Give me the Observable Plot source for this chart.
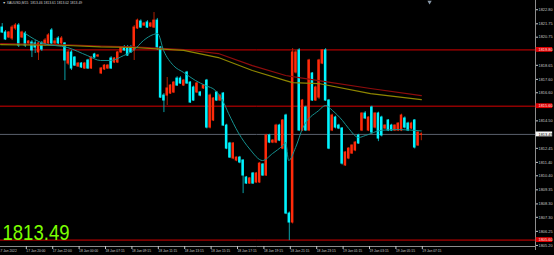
<!DOCTYPE html>
<html><head><meta charset="utf-8">
<script src="https://cdn.jsdelivr.net/npm/d3@7"></script>
<script src="https://cdn.jsdelivr.net/npm/@observablehq/plot@0.6"></script>
<style>
html,body{margin:0;padding:0;background:#000;overflow:hidden}
#chart svg{display:block}
</style></head><body><div id="chart"></div>
<script>
const titleText = "▼ XAUUSD,M15  1813.46 1813.61 1813.02 1813.49";
const bidPrice = 1813.49;
const redLevels = [1819.80, 1815.60, 1805.60];
const yTicks = [1822.80,1821.75,1820.75,1818.65,1817.60,1816.60,1814.50,1812.45,1811.40,1810.40,1809.35,1808.30,1807.30,1806.25,1805.20];
const timeTickBars = [-1.4,7,15,23,31,39,47,55,63,71,79,87,95,103,111,119,127];
const timeTickLabels = ["17 Jan 2022","17 Jan 20:00","17 Jan 22:00","18 Jan 00:00","18 Jan 07:15","18 Jan 09:15","18 Jan 11:15","18 Jan 13:15","18 Jan 15:15","18 Jan 17:15","18 Jan 19:15","18 Jan 21:15","18 Jan 23:15","19 Jan 01:15","19 Jan 03:15","19 Jan 05:15","19 Jan 07:15"];

const opens = [1821.47,1821.10,1820.73,1820.65,1821.40,1821.62,1820.73,1821.02,1820.28,1820.35,1820.28,1819.61,1820.28,1820.20,1820.28,1821.25,1820.28,1820.65,1820.28,1820.28,1818.78,1819.61,1819.23,1818.56,1818.78,1818.41,1819.01,1818.41,1819.46,1819.31,1818.04,1818.34,1818.41,1819.16,1818.86,1818.86,1819.61,1819.98,1819.98,1819.98,1819.76,1821.40,1821.92,1821.62,1821.85,1821.55,1821.47,1821.99,1819.98,1816.39,1816.39,1816.54,1816.62,1817.66,1817.66,1817.14,1818.11,1817.36,1816.99,1816.62,1816.62,1816.92,1817.51,1814.00,1814.53,1816.62,1816.02,1816.54,1814.15,1812.81,1811.69,1811.54,1811.76,1811.54,1810.27,1809.82,1810.57,1809.90,1809.90,1811.24,1810.42,1813.41,1812.88,1812.88,1814.15,1812.43,1814.90,1807.58,1806.91,1818.11,1819.76,1813.78,1815.50,1813.78,1818.04,1816.02,1816.24,1818.78,1819.76,1816.02,1813.78,1814.75,1814.15,1813.93,1811.17,1811.69,1812.06,1812.29,1813.41,1813.78,1815.05,1813.78,1815.50,1814.00,1815.05,1814.75,1813.93,1814.53,1814.15,1813.78,1813.78,1813.78,1814.68,1814.30,1813.93,1814.53,1812.66,1813.46];
const highs = [1821.77,1821.25,1821.17,1821.62,1821.77,1821.77,1821.20,1821.17,1820.50,1820.50,1820.50,1820.35,1820.43,1820.65,1821.02,1821.40,1820.65,1820.80,1820.80,1820.35,1819.76,1819.76,1819.30,1818.86,1818.86,1818.86,1819.10,1819.30,1819.55,1819.46,1818.49,1818.70,1818.70,1819.30,1819.23,1819.68,1820.05,1820.13,1820.13,1820.13,1821.62,1822.10,1822.05,1821.85,1821.99,1821.85,1822.59,1822.15,1820.05,1816.54,1817.74,1817.20,1817.44,1817.80,1817.80,1817.60,1818.20,1817.44,1817.10,1817.36,1816.70,1817.20,1817.60,1816.50,1816.24,1816.70,1816.45,1816.62,1814.25,1812.90,1812.88,1811.80,1811.85,1811.60,1810.35,1810.27,1810.65,1810.65,1811.40,1811.31,1813.50,1813.50,1813.10,1814.25,1814.25,1814.60,1815.00,1807.70,1819.90,1819.76,1819.90,1816.10,1815.60,1819.10,1818.10,1817.10,1819.10,1819.83,1819.90,1816.10,1815.00,1814.85,1814.25,1814.00,1812.20,1812.50,1812.70,1812.95,1813.50,1815.10,1815.20,1814.80,1815.60,1815.10,1815.15,1814.85,1814.20,1814.60,1814.25,1814.20,1814.35,1815.00,1814.80,1814.40,1814.40,1814.60,1813.70,1813.61];
const lows = [1821.02,1820.50,1820.65,1820.50,1821.25,1819.98,1820.65,1819.98,1820.20,1819.23,1819.53,1819.01,1819.68,1820.05,1820.13,1820.13,1820.13,1820.13,1820.13,1817.51,1818.63,1818.26,1818.56,1818.49,1818.41,1818.34,1818.34,1818.34,1819.16,1819.23,1817.96,1818.26,1818.34,1818.34,1818.78,1818.78,1819.53,1819.68,1819.31,1819.53,1819.01,1821.32,1821.40,1821.55,1821.40,1821.47,1821.40,1819.76,1816.17,1815.12,1815.65,1816.47,1816.54,1817.07,1817.22,1817.07,1817.22,1815.80,1815.95,1816.54,1816.30,1816.85,1813.90,1813.90,1814.45,1815.95,1815.95,1814.10,1812.35,1811.70,1811.60,1811.45,1811.30,1809.07,1809.75,1809.75,1809.75,1809.82,1809.82,1810.35,1810.35,1812.80,1812.80,1812.80,1812.95,1812.35,1807.50,1805.56,1806.80,1818.00,1813.70,1813.70,1813.70,1813.70,1815.95,1815.95,1816.10,1818.70,1815.95,1812.35,1813.70,1813.90,1813.85,1811.20,1811.10,1811.60,1812.00,1812.20,1812.75,1813.70,1814.60,1813.70,1813.50,1813.90,1812.95,1813.30,1813.85,1813.70,1813.70,1813.70,1813.70,1813.70,1813.90,1813.70,1813.85,1812.40,1812.60,1813.02];
const closes = [1821.10,1820.58,1821.10,1821.47,1821.62,1820.13,1821.10,1820.13,1820.43,1819.76,1819.98,1820.28,1819.83,1820.50,1820.88,1820.28,1820.43,1820.28,1820.65,1819.01,1819.61,1818.41,1818.63,1818.78,1818.49,1818.78,1818.41,1819.23,1819.23,1819.38,1818.41,1818.63,1818.63,1818.41,1819.16,1819.61,1819.98,1819.76,1819.38,1819.61,1821.47,1821.99,1821.47,1821.77,1821.47,1821.77,1821.99,1819.98,1816.24,1816.02,1816.92,1817.14,1817.36,1817.14,1817.29,1817.51,1817.29,1815.87,1816.02,1817.29,1816.39,1817.14,1814.00,1816.39,1816.17,1816.02,1816.39,1814.15,1812.43,1811.76,1812.81,1811.76,1811.39,1810.42,1809.82,1810.20,1809.82,1810.57,1811.31,1810.42,1813.41,1812.88,1813.03,1814.15,1813.03,1814.53,1807.58,1806.91,1819.61,1819.61,1813.78,1816.02,1813.78,1819.01,1816.02,1816.99,1819.01,1819.76,1816.02,1812.43,1814.90,1814.00,1813.93,1811.31,1812.14,1812.43,1812.66,1812.88,1812.81,1815.05,1814.68,1814.75,1813.63,1815.05,1813.18,1813.41,1814.15,1813.78,1813.78,1814.15,1814.30,1814.90,1814.00,1813.78,1814.30,1812.51,1813.63,1813.49];

const fastMaBars = [7,12.5,19.8,25.8,29.8,32.8,36.8,39.8,42.8,45.8,47.1,48.9,51.9,55,58.6,61.6,64.6,66.8,68.6,71.6,75,78.9,81.9,85,85.9,86.8,88.9,91,95.9,98,100.1,103.1,105,108,110.1,115,120,127];
const fastMaVals = [1821.02,1820.28,1819.98,1819.38,1819.01,1819.01,1819.38,1819.76,1820.50,1820.95,1821.02,1819.76,1818.63,1818.11,1817.51,1817.14,1816.77,1816.02,1815.05,1813.60,1812.40,1811.54,1812.06,1812.66,1812.88,1811.54,1812.51,1813.93,1815.27,1815.65,1815.27,1814.53,1813.93,1813.26,1813.41,1813.80,1813.85,1813.75];
const slowMaBars = [-0.5,19.8,29.8,39.8,55,65.5,75.8,85.9,88,95.9,111.6,127];
const slowRedVals = [1820.28,1820.18,1820.09,1820.02,1819.83,1819.53,1818.63,1817.89,1817.80,1817.51,1816.92,1816.39];
const slowOliveVals = [1820.20,1820.13,1820.02,1819.98,1819.76,1819.23,1818.26,1817.51,1817.36,1817.29,1816.54,1816.09];

const bars = opens.map((o, i) => ({i, o, h: highs[i], l: lows[i], c: closes[i]}));
const ups = bars.filter(d => d.c >= d.o);
const downs = bars.filter(d => d.c < d.o);
const fastMa = fastMaBars.map((b, k) => ({b, v: fastMaVals[k]}));
const slowMa = slowMaBars.map((b, k) => ({b, r: slowRedVals[k], o: slowOliveVals[k]}));
const timeLabel = new Map(timeTickBars.map((b, k) => [b, timeTickLabels[k]]));

const xDomain = [-0.52, 161.6];
const yDomain = [1805.12, 1823.49];
const bullColor = "#ff2a0a", bearColor = "#00f4ff";
const fmt = d3.format(".2f");
const boxW = 5.2, boxH = 0.18;
const smallFont = "Liberation Sans, Arial, sans-serif";

const chart = Plot.plot({
  width: 554, height: 255,
  marginLeft: 0, marginRight: 19, marginTop: 0, marginBottom: 9,
  style: {background: "#000", color: "#cfcfcf", fontFamily: smallFont, overflow: "hidden"},
  x: {type: "linear", domain: xDomain, label: null},
  y: {domain: yDomain, label: null},
  marks: [
    Plot.ruleY(redLevels, {stroke: "#d80000", strokeWidth: 1}),
    Plot.ruleY([bidPrice], {stroke: "#59606c", strokeWidth: 1}),
    Plot.ruleX(ups, {x: "i", y1: "l", y2: "h", stroke: "#b02000", strokeWidth: 1}),
    Plot.ruleX(downs, {x: "i", y1: "l", y2: "h", stroke: "#0aa0a8", strokeWidth: 1}),
    Plot.rect(ups, {x1: d => d.i - 0.38, x2: d => d.i + 0.38, y1: d => d.o, y2: d => d.c, fill: bullColor, insetTop: -0.5, insetBottom: -0.5}),
    Plot.rect(downs, {x1: d => d.i - 0.38, x2: d => d.i + 0.38, y1: d => d.c, y2: d => d.o, fill: bearColor, insetTop: -0.5, insetBottom: -0.5}),
    Plot.line(slowMa, {x: "b", y: "r", stroke: "#8e0c0c", strokeWidth: 1.2}),
    Plot.line(slowMa, {x: "b", y: "o", stroke: "#8f8600", strokeWidth: 1.2}),
    Plot.line(fastMa, {x: "b", y: "v", stroke: "#15908f", strokeWidth: 1, curve: "monotone-x"}),
    Plot.ruleX([xDomain[1]], {stroke: "#8c8c8c", strokeWidth: 1, insetBottom: -4}),
    Plot.ruleY([yDomain[0]], {stroke: "#8c8c8c", strokeWidth: 1}),
    Plot.axisY({anchor: "right", ticks: yTicks, tickFormat: fmt, tickSize: 2, tickPadding: 1, fontSize: 3.9, color: "#c8c8c8"}),
    Plot.axisX({anchor: "bottom", ticks: timeTickBars, tickFormat: d => timeLabel.get(d), tickSize: 3, tickPadding: 0.6, fontSize: 3.3, textAnchor: "start", dx: 1, color: "#c8c8c8"}),
    Plot.rect(redLevels, {x1: xDomain[1] + 0.2, x2: xDomain[1] + boxW, y1: d => d - boxH, y2: d => d + boxH, fill: "#e00000"}),
    Plot.text(redLevels, {x: xDomain[1], y: d => d, dx: 3, text: fmt, textAnchor: "start", fontSize: 3.9, fill: "#ffe0e0"}),
    Plot.rect([bidPrice], {x1: xDomain[1] + 0.2, x2: xDomain[1] + boxW, y1: d => d - boxH, y2: d => d + boxH, fill: "#f4f4f4"}),
    Plot.text([bidPrice], {x: xDomain[1], y: d => d, dx: 3, text: fmt, textAnchor: "start", fontSize: 3.9, fill: "#000"}),
    Plot.text([titleText], {frameAnchor: "top-left", dx: 2, dy: 1.5, fontSize: 3.4, fill: "#d0d0d0"}),
    Plot.text([fmt(bidPrice)], {frameAnchor: "bottom-left", dx: 2, dy: -6.5, fontSize: 22, fill: "#7cff00", fontFamily: "Liberation Sans, Arial, sans-serif"}),
    Plot.dot([bars.length + 1.5], {x: d => d, frameAnchor: "top", dy: 1.5, symbol: "triangle", r: 1.6, rotate: 180, fill: "#8a9aaa"})
  ]
});
document.getElementById("chart").append(chart);
d3.select(chart).selectAll("text")
  .filter(function() { return this.textContent === fmt(bidPrice) && this.parentNode.getAttribute("font-size") === "22"; })
  .attr("textLength", 67).attr("lengthAdjust", "spacingAndGlyphs");
</script></body></html>
